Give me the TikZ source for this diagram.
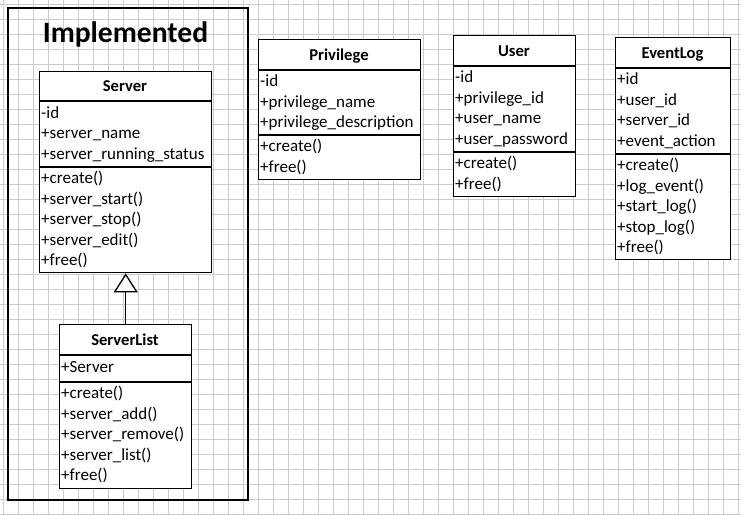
\documentclass[tikz,border=0pt]{standalone}
\usepackage{fontspec}
\setmainfont{Carlito}
\usetikzlibrary{arrows.meta}
\tikzset{
  x=1pt,y=-1pt,
  classbox/.style={draw, line width=1.4pt, fill=white, rectangle, inner sep=0, anchor=north west},
  divider/.style={line width=1.4pt},
  rowtext/.style={anchor=base west, inner sep=0, font=\fontsize{17}{20}\selectfont},
  headtext/.style={anchor=base, inner sep=0, font=\bfseries\fontsize{16.6}{20}\selectfont},
  gridline/.style={draw=black!20, line width=0.55pt},
  frame/.style={draw, line width=1.6pt}
}
\newcommand\umlrows[4]{%
  \foreach \t [count=\i from 0] in {#4} {
    \node[rowtext] (#1\i) at (#2, #3+20.5*\i) {\t};
  }%
}
\newcommand\umlclass[8]{% name, left, right, top, header, sep, bottom, title
  \node[classbox, minimum width=#3-#2, minimum height=#7-#4] (#1) at (#2,#4) {};
  \draw[divider] (#1.west |- 0,#5) -- (#1.east |- 0,#5);
  \draw[divider] (#1.west |- 0,#6) -- (#1.east |- 0,#6);
  \node[headtext] (#1-title) at ({(#2+#3)/2}, #5-10) {#8};
}
\begin{document}
\begin{tikzpicture}
\useasboundingbox (0,0) rectangle (741,515);
\fill[white] (0,0) rectangle (741,515);
% grid
\foreach \k in {0,...,49} { \draw[gridline] (3+15*\k,0) -- (3+15*\k,515); }
\foreach \k in {0,...,34} { \draw[gridline] (0,4+15*\k) -- (741,4+15*\k); }
% frame
\node[frame, rectangle, inner sep=0, anchor=north west, minimum width=240, minimum height=492] (impl) at (7,7) {};
\node[anchor=base, inner sep=0, font=\bfseries\fontsize{29.6}{34}\selectfont] (impl-title) at (125.5,42) {Implemented};
% Server
\umlclass{server}{39}{211}{71}{101}{167}{272}{Server}
\umlrows{sa}{41}{118}{-id,+server\_name,+server\_running\_status}
\umlrows{sm}{41}{183.5}{+create(),+server\_start(),+server\_stop(),+server\_edit(),+free()}
% ServerList
\umlclass{serverlist}{59}{191}{324}{355}{382}{488}{ServerList}
\umlrows{la}{61}{372}{+Server}
\umlrows{lm}{61}{398.5}{+create(),+server\_add(),+server\_remove(),+server\_list(),+free()}
\draw[line width=1.3pt, -{Triangle[open, fill=white, width=24pt, length=19pt]}] (serverlist.north) -- (server.south);
% Privilege
\umlclass{privilege}{258}{420}{39}{70}{135}{179}{Privilege}
\umlrows{pa}{260}{86.5}{-id,+privilege\_name,+privilege\_description}
\umlrows{pm}{260}{151.5}{+create(),+free()}
% User
\umlclass{user}{453}{575}{35}{66}{152}{196}{User}
\umlrows{ua}{455}{82.5}{-id,+privilege\_id,+user\_name,+user\_password}
\umlrows{um}{455}{168.5}{+create(),+free()}
% EventLog
\umlclass{eventlog}{615}{730}{37}{68}{154}{259}{EventLog}
\umlrows{ea}{617}{84.5}{+id,+user\_id,+server\_id,+event\_action}
\umlrows{em}{617}{170.5}{+create(),+log\_event(),+start\_log(),+stop\_log(),+free()}
\end{tikzpicture}
\end{document}
